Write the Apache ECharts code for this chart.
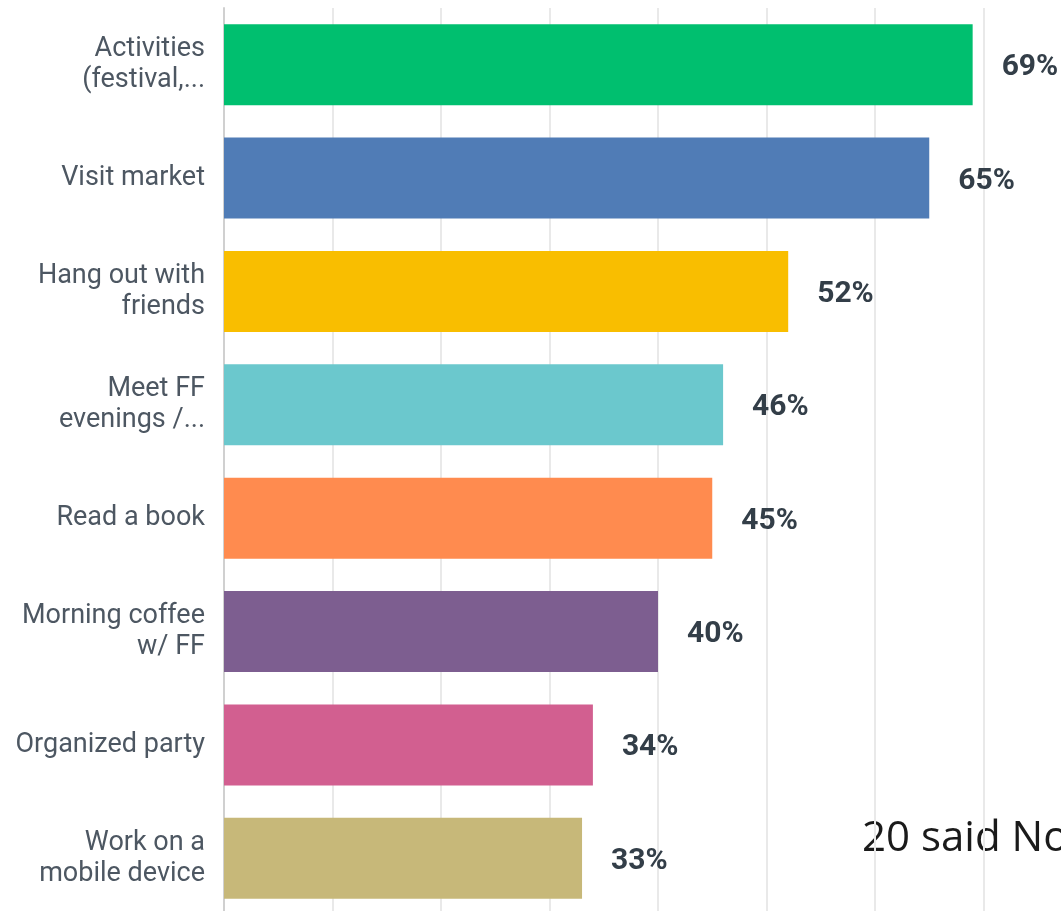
<!DOCTYPE html>
<html>
<head>
<meta charset="utf-8">
<title>Activities</title>
<script src="https://cdn.jsdelivr.net/npm/echarts@6/dist/echarts.min.js"></script>
<style>
  html, body { margin: 0; padding: 0; background: #ffffff; }
  #chart { width: 1061px; height: 911px; }
</style>
</head>
<body>
<div id="chart"></div>
<script>
// Survey answers, one bar per activity (percent of respondents)
const categories = [
  'Activities\n(festival,...',
  'Visit market',
  'Hang out with\nfriends',
  'Meet FF\nevenings /...',
  'Read a book',
  'Morning coffee\nw/ FF',
  'Organized party',
  'Work on a\nmobile device'
];
const values = [69, 65, 52, 46, 45, 40, 34, 33];
const barColors = ['#00bf6f', '#507cb6', '#f9be00', '#6bc8cd', '#ff8b4f', '#7d5e90', '#d25f90', '#c7b879'];
const note = '20 said No';

const chart = echarts.init(document.getElementById('chart'), null, { renderer: 'canvas' });

chart.setOption({
  backgroundColor: '#ffffff',
  animation: false,
  grid: {
    left: 224, top: 8, width: 868, height: 907,
    containLabel: false,
    outerBoundsMode: 'none'
  },
  xAxis: {
    type: 'value',
    min: 0,
    max: 80,
    interval: 10,
    axisLabel: { show: false },
    axisLine: { show: false },
    axisTick: { show: false },
    splitLine: { show: true, lineStyle: { color: '#e9e9e9', width: 2 } }
  },
  yAxis: {
    type: 'category',
    inverse: true,
    data: categories,
    axisTick: { show: false },
    axisLine: { show: true, lineStyle: { color: '#d0d0d0', width: 2 } },
    axisLabel: {
      margin: 19,
      color: '#4d5762',
      fontFamily: 'Roboto',
      fontSize: 27,
      lineHeight: 31,
      padding: [6, 0, 0, 0],
      align: 'right'
    }
  },
  series: [{
    type: 'bar',
    data: values.map((v, i) => ({ value: v, itemStyle: { color: barColors[i] } })),
    barCategoryGap: '28.5%',
    label: {
      show: true,
      position: 'right',
      distance: 29,
      offset: [0, 3],
      formatter: '{c}%',
      color: '#333e48',
      fontFamily: 'Roboto',
      fontWeight: 'bold',
      fontSize: 30
    }
  }],
  graphic: [{
    type: 'text',
    left: 862,
    top: 818,
    style: {
      text: note,
      fill: '#1a1a1a',
      font: '42px "Open Sans"'
    }
  }]
});
</script>
</body>
</html>
